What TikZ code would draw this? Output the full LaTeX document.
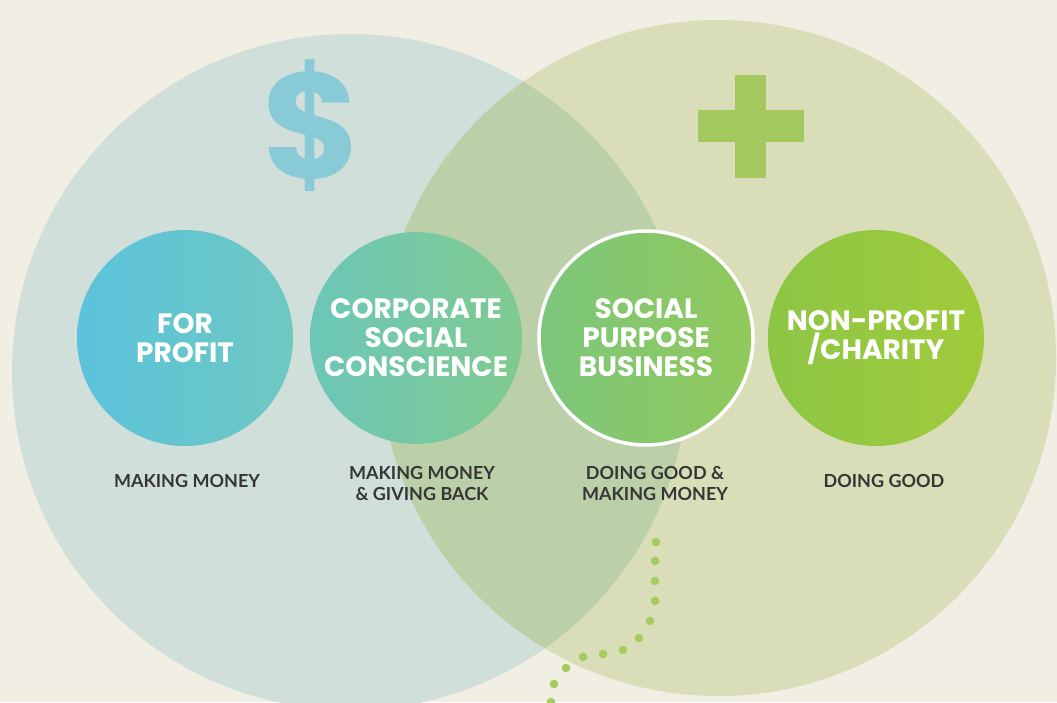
\documentclass[tikz,border=0pt]{standalone}
\usepackage{fontspec}
\newfontfamily\popf{Poppins}
\newfontfamily\labf{Lato}
\definecolor{bgc}{HTML}{F1EEE4}
\definecolor{leftc}{HTML}{D0DFDA}
\definecolor{rightc}{HTML}{D9DEB9}
\definecolor{overc}{HTML}{BBCFA9}
\definecolor{dollarc}{HTML}{88CAD6}
\definecolor{plusc}{HTML}{A2C85E}
\definecolor{dotc}{HTML}{A6CB5F}
\definecolor{labc}{HTML}{363636}
\definecolor{fpL}{HTML}{5BC3DC}
\definecolor{fpR}{HTML}{6FC8C2}
\definecolor{csL}{HTML}{6CC7B9}
\definecolor{csR}{HTML}{80CA8E}
\definecolor{spL}{HTML}{7CC67C}
\definecolor{spR}{HTML}{91C95A}
\definecolor{npL}{HTML}{8DC645}
\definecolor{npR}{HTML}{A0CB3A}
\tikzset{
  bubble/.style={circle, inner sep=0pt, text=white, align=center,
    font=\popf\bfseries\fontsize{28}{29}\selectfont},
  caption/.style={text=labc, align=center,
    font=\labf\bfseries\fontsize{18}{21}\selectfont},
  dotmark/.style={fill=dotc}
}
\begin{document}
\begin{tikzpicture}[x=1pt,y=-1pt]
\useasboundingbox (0,0) rectangle (1057,702);
\fill[bgc] (0,0) rectangle (1057,702);
% big circles
\fill[leftc] (350,372) circle (338);
\fill[rightc] (718,358) circle (338);
\begin{scope}
  \clip (350,372) circle (338);
  \fill[overc] (718,358) circle (338);
\end{scope}
% dollar sign
\node[text=dollarc, font=\popf\bfseries\fontsize{150}{150}\selectfont, inner sep=0pt] (dollar) at (312,126) {\$};
% plus sign
\fill[plusc] (735,75) rectangle (766,178);
\fill[plusc] (698,110) rectangle (804,142);
% small circles
\node[bubble, minimum size=216pt, left color=fpL, right color=fpR] (fp) at (185,338) {FOR\\PROFIT};
\node[bubble, minimum size=212pt, left color=csL, right color=csR] (cs) at (416,338) {CORPORATE\\SOCIAL\\CONSCIENCE};
\node[bubble, minimum size=214pt, left color=spL, right color=spR, draw=white, line width=3.5pt] (sp) at (646,338) {SOCIAL\\PURPOSE\\BUSINESS};
\node[bubble, minimum size=216pt, left color=npL, right color=npR] (np) at (876,338) {NON-PROFIT\\/CHARITY};
% captions
\node[caption] (c1) at (187,481) {MAKING MONEY};
\node[caption] (c2) at (422,483) {MAKING MONEY\\\& GIVING BACK};
\node[caption] (c3) at (655,483) {DOING GOOD \&\\MAKING MONEY};
\node[caption] (c4) at (884,481) {DOING GOOD};
% dotted trail
\foreach \x/\y in {656/542,655/561,655/581,655/601,650/621,639/638,623/650,603/654,583/657,566/668,554/684,551/702}
  \fill[dotmark] (\x,\y) circle (4.3);
\end{tikzpicture}
\end{document}
